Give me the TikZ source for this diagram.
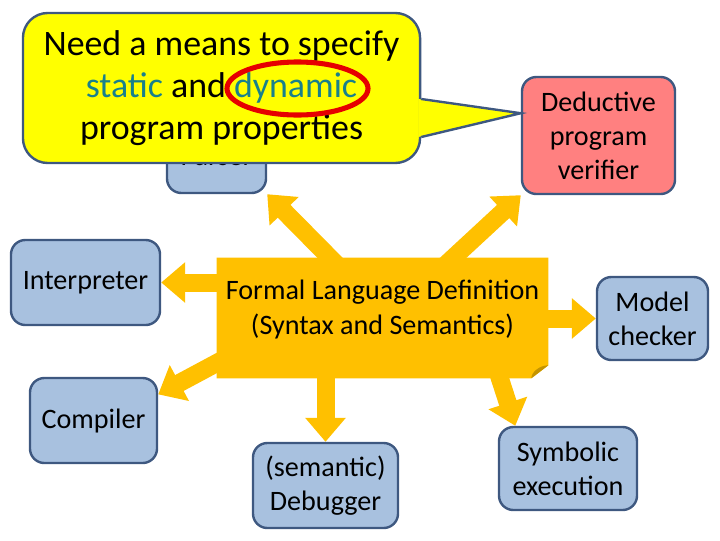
\documentclass[tikz,border=0pt]{standalone}
\usepackage{fontspec}
\setmainfont{Carlito}
\usepackage{xcolor}
\usepackage{tikz}
\usetikzlibrary{arrows.meta,calc,backgrounds,shapes.geometric}
\definecolor{fledge}{RGB}{62,88,128}
\definecolor{fltool}{RGB}{168,193,223}
\definecolor{flverif}{RGB}{255,128,128}
\definecolor{florange}{RGB}{255,192,0}
\definecolor{flfold}{RGB}{196,148,0}
\definecolor{flnote}{RGB}{255,255,0}
\definecolor{flteal}{RGB}{24,128,140}
\definecolor{flring}{RGB}{230,0,0}
\newcommand\flhl[1]{\textcolor{flteal}{#1}}
\tikzset{
  flbox/.style={
    draw=fledge, line width=1.7pt, rounded corners=0.36cm,
    align=center, inner sep=2pt, font=\fontsize{20}{24.3}\selectfont
  },
  tool/.style={flbox, fill=fltool},
  verif/.style={flbox, fill=flverif},
  note/.style={flbox, fill=flnote, rounded corners=0.62cm, font=\fontsize{25.5}{30}\selectfont},
  fldef/.style={align=center, font=\fontsize{20}{24.3}\selectfont},
  blk/.style={draw=florange, line width=0.45cm, -{Triangle[length=0.6cm,width=0.98cm]}},
  ring/.style={ellipse, draw=flring, line width=3.6pt, inner sep=0pt}
}
\begin{document}
\begin{tikzpicture}[x=0.025cm, y=-0.025cm]
  \useasboundingbox (0,0) rectangle (720,540);
  % tools round the definition
  \node[tool, minimum width=2.475cm, minimum height=1.8cm] (parser) at (216.5,157) {Parser};
  \node[verif, minimum width=3.825cm, minimum height=2.925cm] (deduct) at (598.5,135.5) {Deductive\\program\\verifier};
  \node[tool, minimum width=3.725cm, minimum height=2.125cm] (interp) at (85.5,282.5) {Interpreter};
  \node[tool, minimum width=3.175cm, minimum height=2.125cm] (compiler) at (93.5,420.5) {Compiler};
  \node[tool, minimum width=2.775cm, minimum height=2.075cm] (model) at (652.5,318.5) {Model\\checker};
  \node[tool, minimum width=3.625cm, minimum height=2.125cm] (debug) at (325.5,485.5) {(semantic)\\Debugger};
  \node[tool, minimum width=3.45cm, minimum height=2.075cm] (symb) at (568,468.5) {Symbolic\\execution};
  \node[minimum width=8.275cm, minimum height=3cm] (fld) at (382.5,318) {};
  \begin{scope}[on background layer]
    \draw[blk] ($(fld.north west)+(133,20)$) -- (parser.south east);
    \draw[blk] ($(fld.north west)+(215,20)$) -- (deduct.south west);
    \draw[blk] ($(fld.west |- interp.east)+(20,0)$) -- (interp.east);
    \draw[blk] ($(fld.south west)+(20,-26)$) -- (compiler.22);
    \draw[blk] ($(fld.east |- model.west)+(-20,0)$) -- (model.west);
    \draw[blk] ($(fld.south -| debug.north)+(0,-20)$) -- (debug.north);
    \draw[blk] ($(fld.south east)+(-55,-20)$) -- (symb.141);
    % note paper with folded corner
    \fill[florange] (fld.north west) -- (fld.north east) -- ($(fld.south east)+(0,-13)$)
      -- ($(fld.south east)+(-17,0)$) -- (fld.south west) -- cycle;
    \fill[flfold] ($(fld.south east)+(0,-13)$) .. controls ($(fld.south east)+(-9,-13)$)
      and ($(fld.south east)+(-17,-6)$) .. ($(fld.south east)+(-17,0)$) -- cycle;
  \end{scope}
  \node[fldef] (fldtxt) at ($(fld.center)+(0,-8.5)$) {Formal Language Definition\\(Syntax and Semantics)};
  % callout
  \node[note, minimum width=9.925cm, minimum height=3.75cm] (need) at (221.5,88)
    {Need a means to specify\\\flhl{static} and \flhl{dynamic}\\program properties};
  \fill[flnote] ($(need.east)+(-3,11)$) -- (deduct.164) -- ($(need.east)+(-3,49)$) -- cycle;
  \draw[fledge, line width=1.7pt] ($(need.east)+(0,11)$) -- (deduct.164) -- ($(need.east)+(0,49)$);
  \node[ring, minimum width=3.525cm, minimum height=1.325cm] (ringdyn) at (297.5,88.5) {};
\end{tikzpicture}
\end{document}
